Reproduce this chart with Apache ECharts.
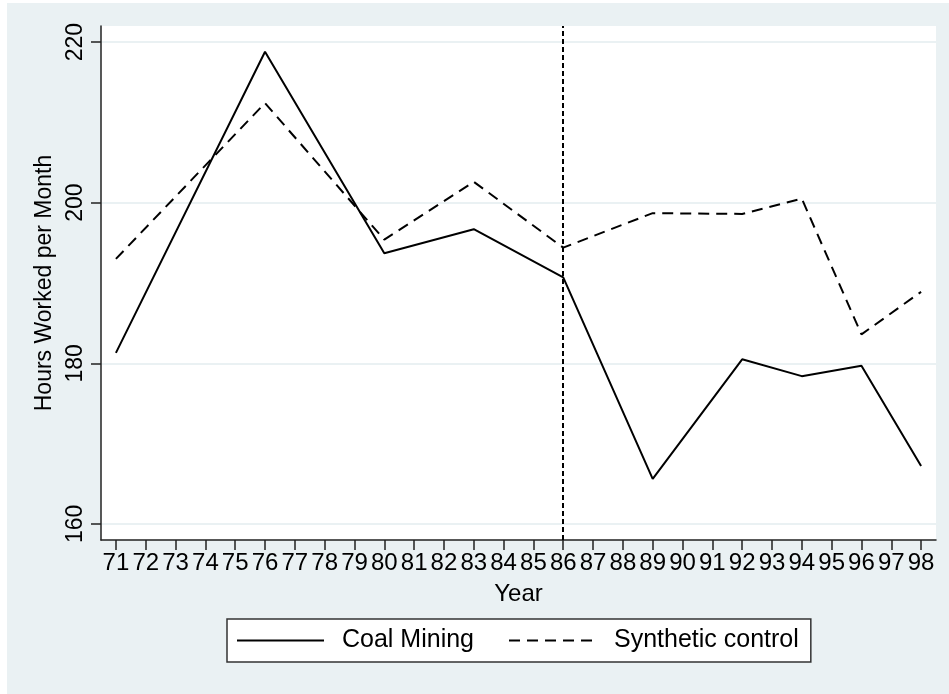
<!DOCTYPE html>
<html>
<head>
<meta charset="utf-8">
<title>Hours Worked per Month</title>
<script src="https://cdn.jsdelivr.net/npm/echarts@6/dist/echarts.min.js"></script>
<style>
  html, body { margin: 0; padding: 0; background: #fff; }
  #chart { width: 949px; height: 694px; }
</style>
</head>
<body>
<div id="chart"></div>
<script>
// Year categories on the x axis (two-digit years)
const years = ['71','72','73','74','75','76','77','78','79','80','81','82','83','84',
               '85','86','87','88','89','90','91','92','93','94','95','96','97','98'];

// Survey years with observations
const surveyYears = ['71','76','80','83','86','89','92','94','96','98'];

// Average hours worked per month
const coalMining       = [181.3, 218.8, 193.7, 196.7, 190.7, 165.6, 180.5, 178.4, 179.7, 167.2];
const syntheticControl = [193.0, 212.4, 195.4, 202.6, 194.4, 198.7, 198.6, 200.5, 183.6, 188.9];

// Y axis tick values and the treatment year marker
const yTicks = [160, 180, 200, 220];
const treatmentYear = '86';

const FONT = "'Liberation Sans', Arial, Helvetica, sans-serif";
const BG = '#eaf1f3';

const pairs = vals => surveyYears.map((y, i) => [y, vals[i]]);

const chart = echarts.init(document.getElementById('chart'), null, { renderer: 'canvas' });

chart.setOption({
  backgroundColor: '#ffffff',
  animation: false,
  graphic: [{
    type: 'rect',
    left: 7, top: 3,
    shape: { width: 942, height: 691 },
    style: { fill: BG },
    z: -10
  }],
  grid: {
    left: 101, right: 13, top: 26, bottom: 154,
    show: true,
    backgroundColor: '#ffffff',
    borderWidth: 0
  },
  xAxis: {
    type: 'category',
    data: years,
    boundaryGap: true,
    name: 'Year',
    nameLocation: 'middle',
    nameGap: 42,
    nameTextStyle: { fontFamily: FONT, fontSize: 24, color: '#000' },
    axisLine: { show: true, lineStyle: { color: '#222', width: 1.5 } },
    axisTick: { show: true, alignWithLabel: true, interval: 0, length: 10, lineStyle: { color: '#222', width: 1.5 } },
    axisLabel: { interval: 0, margin: 11, fontFamily: FONT, fontSize: 24, color: '#000' },
    splitLine: { show: false }
  },
  yAxis: {
    type: 'value',
    min: 158, max: 222,
    name: 'Hours Worked per Month',
    nameLocation: 'middle',
    nameGap: 44,
    nameTextStyle: { fontFamily: FONT, fontSize: 23, color: '#000' },
    axisLine: { show: true, lineStyle: { color: '#222', width: 1.5 } },
    axisTick: { show: true, customValues: yTicks, length: 10, lineStyle: { color: '#222', width: 1.5 } },
    axisLabel: { customValues: yTicks, rotate: 90, margin: 14, fontFamily: FONT, fontSize: 23, color: '#000' },
    splitLine: { show: true, lineStyle: { color: BG, width: 2 } }
  },
  legend: {
    left: 227, top: 619,
    orient: 'horizontal',
    padding: [9, 12, 9, 9],
    backgroundColor: '#ffffff',
    borderColor: '#333',
    borderWidth: 1.5,
    borderRadius: 0,
    itemWidth: 87,
    itemHeight: 14,
    itemGap: 34,
    itemStyle: { color: 'transparent', borderWidth: 0, opacity: 0 },
    textStyle: { fontFamily: FONT, fontSize: 25, color: '#000', padding: [0, 0, 0, 13] },
    data: ['Coal Mining', 'Synthetic control']
  },
  series: [
    {
      name: 'Coal Mining',
      type: 'line',
      data: pairs(coalMining),
      symbol: 'none',
      lineStyle: { color: '#000', width: 2, type: 'solid' },
      itemStyle: { color: '#000' },
      markLine: {
        silent: true,
        symbol: 'none',
        label: { show: false },
        lineStyle: { color: '#000', width: 2, type: [5, 3] },
        data: [{ xAxis: treatmentYear }]
      }
    },
    {
      name: 'Synthetic control',
      type: 'line',
      data: pairs(syntheticControl),
      symbol: 'none',
      lineStyle: { color: '#000', width: 2, type: [11, 7] },
      itemStyle: { color: '#000' }
    }
  ]
});
</script>
</body>
</html>
